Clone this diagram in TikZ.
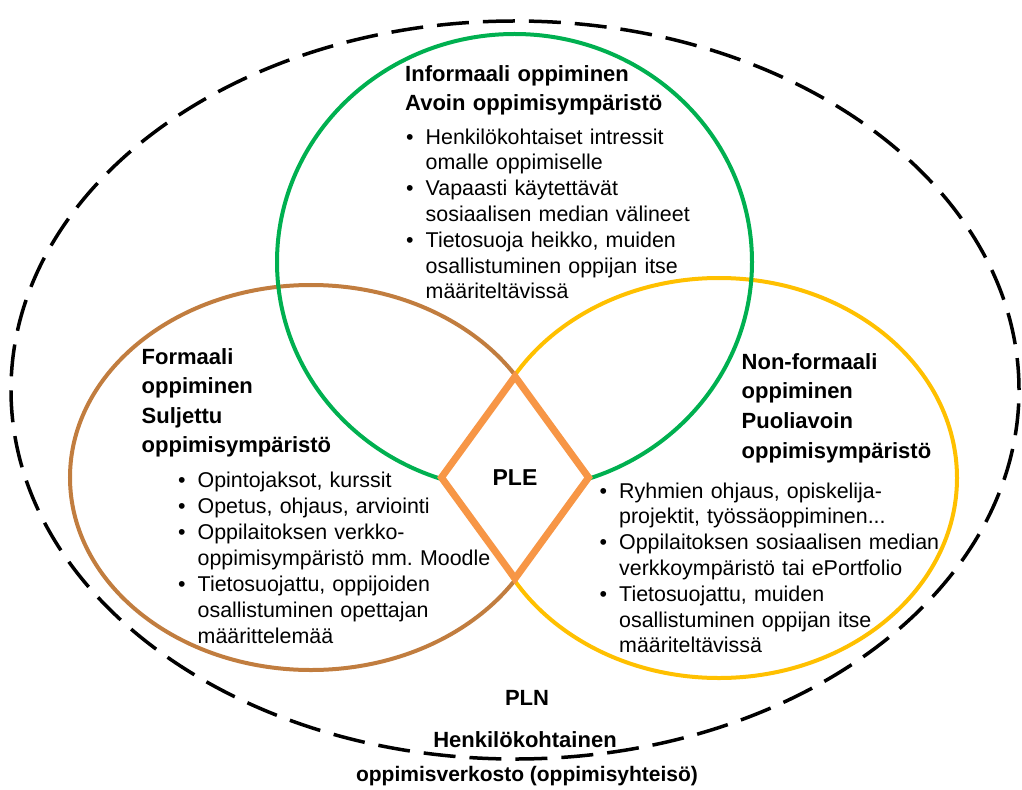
\documentclass[tikz,border=0pt]{standalone}
\usepackage{fontspec}
\setmainfont{Liberation Sans}
\usetikzlibrary{shapes.geometric}

\definecolor{informal}{HTML}{00B050}
\definecolor{formal}{RGB}{193,125,63}
\definecolor{nonformal}{HTML}{FFC000}
\definecolor{plecolor}{HTML}{F79646}

% one bullet point with a hanging indent for its continuation lines
\newcommand{\bulitem}[1]{\hangindent=19.5bp\hangafter=1\noindent\makebox[19.5bp][l]{•}#1\par}

\frenchspacing
\begin{document}
\begin{tikzpicture}[x=1bp,y=-1bp,
  area/.style={line width=4bp},
  heading/.style={anchor=base west, inner sep=0pt, text width=330bp, align=left,
    font=\bfseries\fontsize{22bp}{29.5bp}\selectfont},
  items/.style={anchor=base west, inner sep=0pt, text width=360bp, align=left,
    font=\frenchspacing\fontsize{21.4bp}{25.8bp}\selectfont},
  caption/.style={anchor=base, inner sep=0pt, font=\bfseries\fontsize{22bp}{26bp}\selectfont},
]
\useasboundingbox (0,0) rectangle (1022,790);

% personal learning network
\draw[line width=3.5bp, dash pattern=on 32bp off 14bp]
  (515,390) ellipse [x radius=504bp, y radius=369bp];

% the three learning environments
\draw[area, formal]    (311,477.5) ellipse [x radius=241bp, y radius=192.5bp];
\draw[area, nonformal] (719,478)   ellipse [x radius=238bp, y radius=200bp];
\draw[area, informal]  (514.5,262) ellipse [x radius=237.5bp, y radius=228bp];

% personal learning environment in the middle
\node[diamond, draw=plecolor, line width=7bp, fill=white, inner sep=0pt,
      minimum width=150bp, minimum height=205bp,
      font=\bfseries\fontsize{23bp}{26bp}\selectfont] (ple) at (515,477.5) {PLE};

% informal learning
\node[heading, font=\bfseries\fontsize{22bp}{28bp}\selectfont] (infhead) at (405,82)
  {Informaali oppiminen\\Avoin oppimisympäristö};
\node[items] (infitems) at (406,144) {%
  \bulitem{Henkilökohtaiset intressit\newline omalle oppimiselle}%
  \bulitem{Vapaasti käytettävät\newline sosiaalisen median välineet}%
  \bulitem{Tietosuoja heikko, muiden\newline osallistuminen oppijan itse\newline määriteltävissä}};

% formal learning
\node[heading] (forhead) at (141.5,364)
  {Formaali\\oppiminen\\Suljettu\\oppimisympäristö};
\node[items, font=\frenchspacing\fontsize{21.4bp}{26bp}\selectfont] (foritems) at (178,487) {%
  \bulitem{Opintojaksot, kurssit}%
  \bulitem{Opetus, ohjaus, arviointi}%
  \bulitem{Oppilaitoksen verkko-\newline oppimisympäristö mm. Moodle}%
  \bulitem{Tietosuojattu, oppijoiden\newline osallistuminen opettajan\newline määrittelemää}};

% non-formal learning
\node[heading, font=\bfseries\fontsize{22bp}{29.7bp}\selectfont] (nonhead) at (741.5,369)
  {Non-formaali\\oppiminen\\Puoliavoin\\oppimisympäristö};
\node[items] (nonitems) at (599.5,498) {%
  \bulitem{Ryhmien ohjaus, opiskelija-\newline projektit, työssäoppiminen...}%
  \bulitem{Oppilaitoksen sosiaalisen median\newline verkkoympäristö tai ePortfolio}%
  \bulitem{Tietosuojattu, muiden\newline osallistuminen oppijan itse\newline määriteltävissä}};

% network caption
\node[caption] (pln) at (527,705) {PLN};
\node[caption] (plnname) at (525,747) {Henkilökohtainen};
\node[caption, font=\bfseries\fontsize{21bp}{24bp}\selectfont] (plnsub) at (527,781)
  {oppimisverkosto (oppimisyhteisö)};
\end{tikzpicture}
\end{document}
